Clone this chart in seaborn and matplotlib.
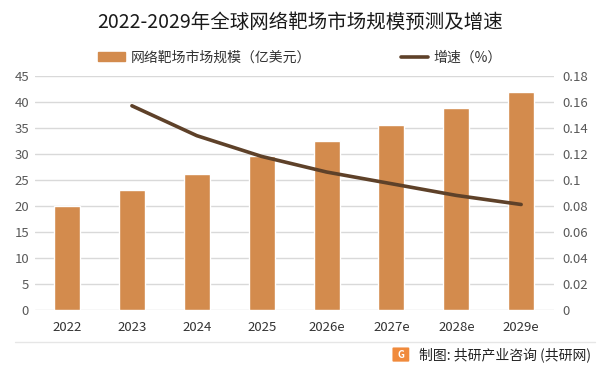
import matplotlib
matplotlib.use('Agg')
import matplotlib.pyplot as plt
import seaborn as sns
import pandas as pd
from matplotlib.patches import FancyBboxPatch
from matplotlib.lines import Line2D

years = ['2022', '2023', '2024', '2025', '2026e', '2027e', '2028e', '2029e']
market_size = [20.0, 23.1, 26.1, 29.5, 32.5, 35.6, 38.9, 41.9]
growth = [None, 0.157, 0.134, 0.118, 0.106, 0.097, 0.088, 0.081]

left_ticks = [0, 5, 10, 15, 20, 25, 30, 35, 40, 45]
right_ticks = [0, 0.02, 0.04, 0.06, 0.08, 0.1, 0.12, 0.14, 0.16, 0.18]
right_labels = ['0', '0.02', '0.04', '0.06', '0.08', '0.1', '0.12', '0.14', '0.16', '0.18']

sns.set_style('white')
plt.rcParams['font.family'] = ['Noto Sans CJK SC', 'DejaVu Sans']

df = pd.DataFrame({'year': years, 'size': market_size, 'growth': growth})

fig = plt.figure(figsize=(6.01, 3.74), dpi=100)
ax = fig.add_axes([0.0576, 0.172, 0.8635, 0.625])

bar_color = '#D38B4D'
line_color = '#5E4129'

sns.barplot(data=df, x='year', y='size', color=bar_color, width=0.4,
            saturation=1, ax=ax, zorder=3)
ax.set_ylim(0, 45)
ax.set_yticks(left_ticks)
ax.set_xlim(-0.5, 7.5)
ax.yaxis.grid(True, color='#d9d9d9', linewidth=1, zorder=0)
ax.set_axisbelow(True)
ax.set_xlabel('')
ax.set_ylabel('')
for s in ['top', 'right', 'left', 'bottom']:
    ax.spines[s].set_visible(False)
ax.tick_params(axis='y', length=0, labelsize=9.5, labelcolor='#595959', pad=4)
ax.tick_params(axis='x', length=0, labelsize=9.5, labelcolor='#333333', pad=8)
ax.set_yticklabels([str(t) for t in left_ticks])

ax2 = ax.twinx()
gdf = df.dropna(subset=['growth']).reset_index(drop=True)
gdf['pos'] = [years.index(y) for y in gdf['year']]
sns.lineplot(data=gdf, x='pos', y='growth', color=line_color, linewidth=2.6, ax=ax2)
ax2.set_ylim(0, 0.18)
ax2.set_yticks(right_ticks)
ax2.set_yticklabels(right_labels)
ax2.set_xlim(-0.5, 7.5)
ax2.set_ylabel('')
ax2.set_xlabel('')
for s in ['top', 'right', 'left', 'bottom']:
    ax2.spines[s].set_visible(False)
ax2.tick_params(axis='y', length=0, labelsize=9.5, labelcolor='#595959', pad=6)

fig.text(0.5, 0.94, '2022-2029年全球网络靶场市场规模预测及增速', ha='center', va='center',
         fontsize=14, color='#1a1a1a')

# legend
handles = [plt.Rectangle((0, 0), 1, 1, color=bar_color),
           Line2D([0], [0], color=line_color, linewidth=2.6)]
fig.legend(handles[:1], ['网络靶场市场规模（亿美元）'], loc='center left',
           bbox_to_anchor=(0.143, 0.846), frameon=False, fontsize=10,
           handlelength=1.9, handleheight=0.6, handletextpad=0.4,
           labelcolor='#333333')
fig.legend(handles[1:], ['增速（%）'], loc='center left',
           bbox_to_anchor=(0.647, 0.846), frameon=False, fontsize=10,
           handlelength=1.9, handletextpad=0.4, labelcolor='#333333')

# footer
fig.add_artist(Line2D([0.025, 0.99], [0.086, 0.086], color='#e6e6e6', linewidth=1))
fig.add_artist(FancyBboxPatch((0.655, 0.035), 0.024, 0.034, boxstyle='round,pad=0.002',
                              facecolor='#F08A3C', edgecolor='none'))
fig.text(0.667, 0.052, 'G', ha='center', va='center', fontsize=7, color='white',
         fontweight='bold')
fig.text(0.697, 0.052, '制图: 共研产业咨询 (共研网)', ha='left', va='center',
         fontsize=10, color='#222222')

plt.savefig('out.png', dpi=100)
plt.close()
